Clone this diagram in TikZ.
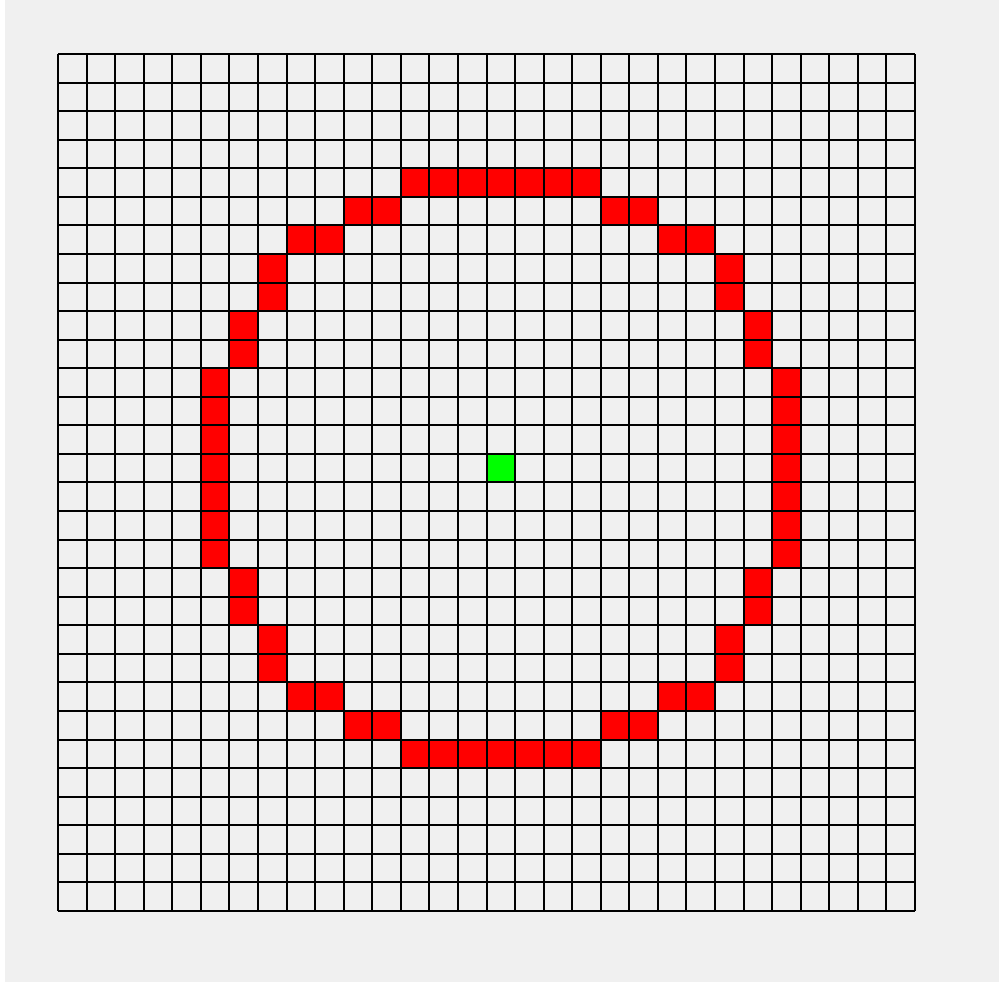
\documentclass[tikz,border=0pt]{standalone}
\usepackage{tikz}
\definecolor{panelgray}{HTML}{F0F0F0}
\definecolor{ringred}{HTML}{FF0000}
\definecolor{centregreen}{HTML}{00FF00}
\tikzset{cell/.style={fill=#1}}

\begin{document}
\begin{tikzpicture}[x=0.5cm,y=0.5cm]
\useasboundingbox (-2.03,-2.485) rectangle (32.94,31.89);
\fill[white] (-2.03,-2.485) rectangle (32.94,31.89);
\fill[panelgray] (-1.855,-2.485) rectangle (32.94,31.89);
% ring of red cells (row counted from the top)
\foreach \r in {4,24}{\foreach \c in {12,...,18}{\fill[cell=ringred] (\c,29-\r) rectangle ++(1,1);}}
\foreach \r in {5,23}{\foreach \c in {10,11,19,20}{\fill[cell=ringred] (\c,29-\r) rectangle ++(1,1);}}
\foreach \r in {6,22}{\foreach \c in {8,9,21,22}{\fill[cell=ringred] (\c,29-\r) rectangle ++(1,1);}}
\foreach \r in {7,8,20,21}{\foreach \c in {7,23}{\fill[cell=ringred] (\c,29-\r) rectangle ++(1,1);}}
\foreach \r in {9,10,18,19}{\foreach \c in {6,24}{\fill[cell=ringred] (\c,29-\r) rectangle ++(1,1);}}
\foreach \r in {11,...,17}{\foreach \c in {5,25}{\fill[cell=ringred] (\c,29-\r) rectangle ++(1,1);}}
% centre
\fill[cell=centregreen] (15,29-14) rectangle ++(1,1);
\draw[line width=1pt,step=0.5cm] (0,0) grid (30,30);
\end{tikzpicture}
\end{document}
